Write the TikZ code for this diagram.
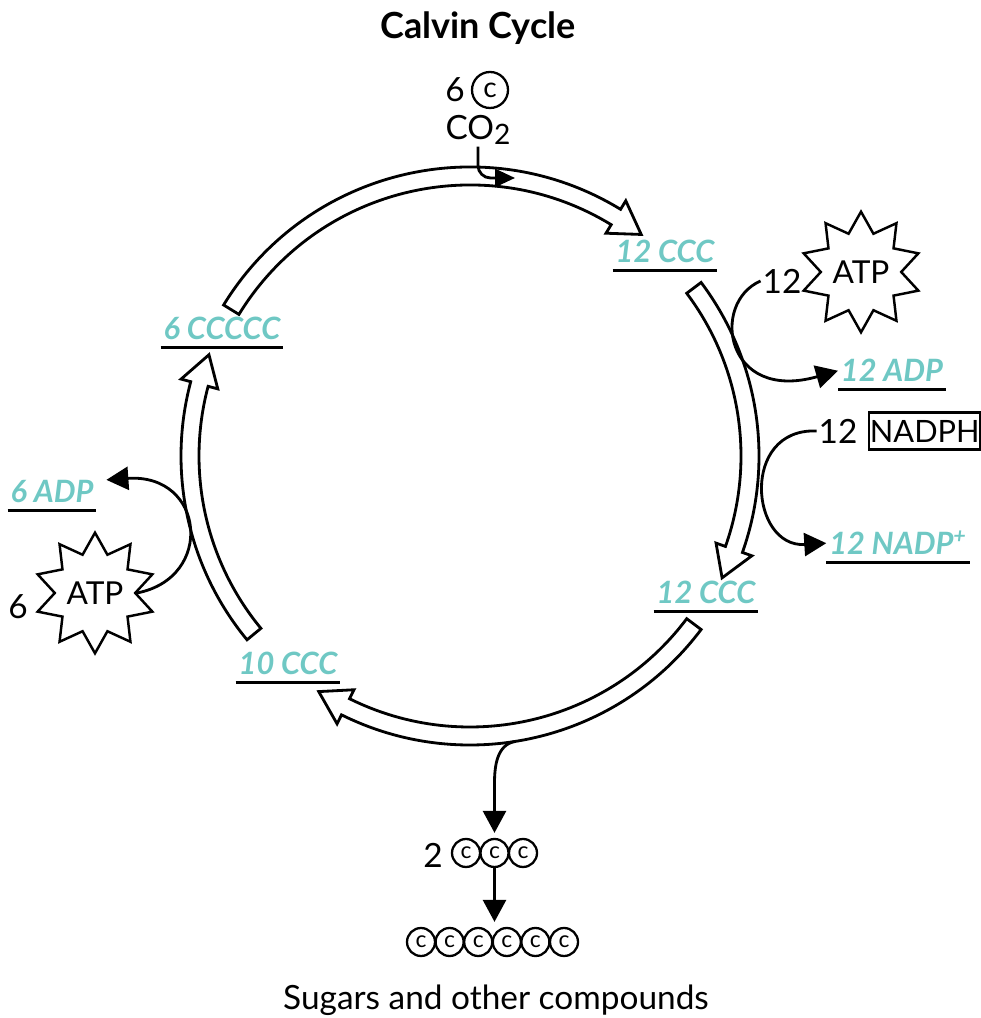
\documentclass[tikz,border=0pt]{standalone}
\usepackage{fontspec}
\setmainfont{Lato}
\usetikzlibrary{arrows.meta, shapes.geometric, calc}

\definecolor{tuerkis}{RGB}{111,200,196}

\tikzset{
  band/.style={draw, line width=1.6pt, fill=white, line join=miter},
  conn/.style={line width=1.6pt, -{Triangle[length=4.4mm, width=4.6mm]}},
  lbl/.style={text=tuerkis, font=\fontsize{17.5}{20}\selectfont\bfseries\itshape,
    anchor=base, inner xsep=1.5pt, inner ysep=4pt, text depth=0pt},
  uline/.style={line width=1.4pt},
  txt/.style={font=\fontsize{19}{23}\selectfont, inner sep=1pt},
  atom/.style={circle, draw, line width=1.3pt, inner sep=0pt, minimum size=5.6mm,
    font=\fontsize{13}{13}\selectfont},
  energie/.style={star, star points=10, star point ratio=1.5, draw, line width=1.4pt,
    minimum size=21mm, inner sep=0pt, font=\fontsize{18}{20}\selectfont},
}

\begin{document}
\begin{tikzpicture}[x=0.2mm, y=0.2mm]
    \useasboundingbox (0,0) rectangle (980,1018);

    % 1. Mittelpunkt des Kreislaufs
    \coordinate (M) at (470,562);

    % 2. Hohlpfeile (Start- und Endwinkel, im Uhrzeigersinn)
    \foreach \s/\e in {148.5/52.3, 36.9/-25.8, -36.9/-122.7, 219.5/158.8}{
        \pgfmathsetmacro{\hb}{\e+6.3}
        \draw[band] ($(M)+(\s:289)$) arc[start angle=\s, end angle=\hb, radius=289]
            -- ($(M)+(\hb:299)$) -- ($(M)+(\e:280)$) -- ($(M)+(\hb:261)$) -- ($(M)+(\hb:271)$)
            arc[start angle=\hb, end angle=\s, radius=271] -- cycle;
    }

    % 3. Titel und CO2-Eingang
    \node[font=\fontsize{20.5}{24}\selectfont\bfseries] (titel) at (478,990) {Calvin Cycle};
    \node[txt] (sechs) at (455,928) {6};
    \node[atom, minimum size=7.2mm, font=\fontsize{16}{16}\selectfont] (cTop) at (490,928) {c};
    \node[txt] (co2) at (478,888) {CO\raisebox{-0.3ex}{\fontsize{16}{16}\selectfont 2}};
    \coordinate (co2Ende) at (515,840);
    \draw[line width=1.6pt, rounded corners=2.5mm, -{Triangle[length=4mm, width=3.6mm]}]
        (co2.south) |- (co2Ende);

    % 4. Beschriftungen der Zwischenstufen
    \node[lbl] (ccc12a) at (665,755) {12 CCC};
    \node[lbl] (ccc12b) at (706,414) {12 CCC};
    \node[lbl] (ccc10) at (288,343) {10 CCC};
    \node[lbl] (ccccc6) at (222,678) {6 CCCCC};
    \node[lbl] (adp12) at (892,636) {12 ADP};
    \node[lbl] (nadp12) at (898,463) {12 NADP\textsuperscript{+}};
    \node[lbl] (adp6) at (52,515) {6 ADP};
    \foreach \n in {ccc12a, ccc12b, ccc10, ccccc6, adp12, nadp12, adp6}
        \draw[uline] (\n.south west) -- (\n.south east);

    % 5. ATP und NADPH rechts
    \node[energie] (atpR) at (861,746) {ATP};
    \node[txt] (n12a) at (782,737) {12};
    \draw[conn] (n12a.west) .. controls (710,715) and (725,615) .. (adp12.west);
    \node[txt] (n12b) at (838,587) {12};
    \node[txt, draw, line width=1.2pt, anchor=west, minimum width=22mm, minimum height=7.4mm,
        inner xsep=0.5pt, font=\fontsize{17.5}{20}\selectfont] (nadph) at (868,587) {NADPH};
    \draw[conn] (n12b.west) .. controls (740,590) and (750,470) .. (nadp12.west);

    % 6. ATP links
    \node[energie] (atpL) at (95,425) {ATP};
    \node[txt] (n6) at (18,411) {6};
    \draw[conn] (atpL.east) .. controls (215,440) and (205,545) .. ([xshift=2mm, yshift=2.4mm]adp6.east);

    % 7. Abzweig zu den Zuckern
    \coordinate (abzweig) at ($(M)+(-81:289)$);
    \node[txt] (n2) at (433,163) {2};
    \foreach \i/\x in {1/466, 2/494.5, 3/523}
        \node[atom] (d\i) at (\x,165) {c};
    \draw[conn, shorten >=1mm] (abzweig) to[out=190, in=90] (d2.north |- 0,235) -- (d2.north);
    \foreach \i in {1,...,6}
        \node[atom] (s\i) at ({421+28.6*(\i-1)},76) {c};
    \draw[conn, shorten >=1mm] (d2.south) -- (d2.south |- s3.north);
    \node[txt] (zucker) at (496,18) {Sugars and other compounds};

\end{tikzpicture}
\end{document}
